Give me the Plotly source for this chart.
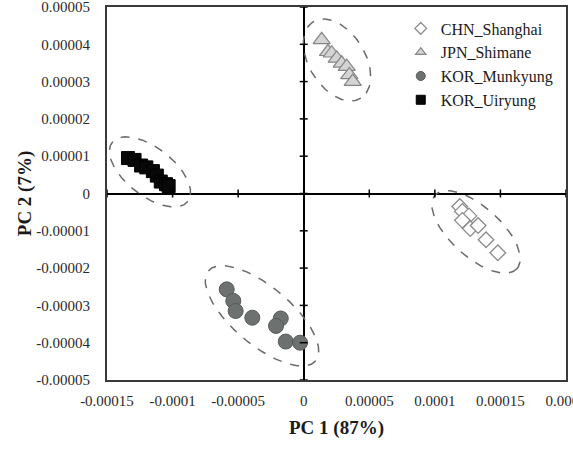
import numpy as np
import plotly.graph_objects as go

# ---- data ----
chn_x = [1.19e-4, 1.21e-4, 1.26e-4, 1.21e-4, 1.27e-4, 1.33e-4, 1.39e-4, 1.48e-4]
chn_y = [-3.5e-6, -4.8e-6, -6.0e-6, -7.2e-6, -9.4e-6, -8.6e-6, -1.24e-5, -1.59e-5]

jpn_x = [1.37e-5, 1.85e-5, 2.14e-5, 2.52e-5, 2.9e-5, 3.28e-5, 3.48e-5, 3.74e-5]
jpn_y = [4.12e-5, 3.8e-5, 3.76e-5, 3.62e-5, 3.49e-5, 3.4e-5, 3.18e-5, 3.0e-5]

mun_x = [-5.87e-5, -5.37e-5, -5.19e-5, -3.92e-5, -1.75e-5, -2.11e-5, -1.37e-5, -2.8e-6]
mun_y = [-2.57e-5, -2.88e-5, -3.15e-5, -3.33e-5, -3.35e-5, -3.55e-5, -3.97e-5, -4.0e-5]

uir_x = [-1.34e-4, -1.29e-4, -1.24e-4, -1.2e-4, -1.15e-4, -1.12e-4, -1.09e-4, -1.05e-4, -1.03e-4]
uir_y = [9.5e-6, 9.0e-6, 7.5e-6, 7.0e-6, 6.0e-6, 4.8e-6, 3.2e-6, 2.5e-6, 2.0e-6]

x_ticks = [-0.00015, -0.0001, -0.00005, 0, 0.00005, 0.0001, 0.00015, 0.0002]
x_tick_labels = ["-0.00015", "-0.0001", "-0.00005", "0", "0.00005", "0.0001", "0.00015", "0.0002"]
y_ticks = [0.00005, 0.00004, 0.00003, 0.00002, 0.00001, 0, -0.00001, -0.00002, -0.00003, -0.00004, -0.00005]
y_tick_labels = ["0.00005", "0.00004", "0.00003", "0.00002", "0.00001", "0",
                 "-0.00001", "-0.00002", "-0.00003", "-0.00004", "-0.00005"]

# ---- layout geometry ----
W, H = 573, 452
ML, MR, MT, MB = 107, 7, 7, 72
xr = [-0.00015, 0.0002]
yr = [-0.00005, 0.00005]
sx = (W - ML - MR) / (xr[1] - xr[0])
sy = (H - MT - MB) / (yr[1] - yr[0])

# ellipse decorations: center (data), semi-axes (px), angle (deg, downward slope)
ellipses = [
    (2.54e-5, 3.58e-5, 45, 28, 58),
    (-1.172e-4, 5.8e-6, 48, 24, 38),
    (1.314e-4, -1.03e-5, 55, 25, 42),
    (-3.18e-5, -3.28e-5, 70, 29, 40),
]

serif = "Liberation Serif, Times New Roman, serif"
fig = go.Figure()

t = np.linspace(0, 2 * np.pi, 200)
for cx, cy, a, b, ang in ellipses:
    th = np.deg2rad(ang)
    px = a * np.cos(t) * np.cos(th) - b * np.sin(t) * np.sin(th)
    py = a * np.cos(t) * np.sin(th) + b * np.sin(t) * np.cos(th)
    fig.add_trace(go.Scatter(x=cx + px / sx, y=cy - py / sy, mode="lines",
                             line=dict(color="#6a6a6a", width=1.5, dash="dash"),
                             showlegend=False, hoverinfo="skip"))

series = [
    ("CHN_Shanghai", chn_x, chn_y, "diamond", 12, 9, "white", "#8a8a8a", 1.3),
    ("JPN_Shimane", jpn_x, jpn_y, "triangle-up", 15, 9, "#d4d4d4", "#858585", 1.2),
    ("KOR_Munkyung", mun_x, mun_y, "circle", 15, 9, "#6d7270", "#555a58", 1),
    ("KOR_Uiryung", uir_x, uir_y, "square", 13, 9, "#080808", "#000000", 1),
]
for i, (name, xs, ys, sym, sz, lsz, fc, lc, lw) in enumerate(series):
    fig.add_trace(go.Scatter(x=xs, y=ys, mode="markers", name=name, showlegend=False,
                             marker=dict(symbol=sym, size=sz, color=fc,
                                         line=dict(color=lc, width=lw))))
for i, (name, xs, ys, sym, sz, lsz, fc, lc, lw) in enumerate(series):
    fig.add_trace(go.Scatter(x=[None], y=[None], mode="markers", name=name,
                             legendgroup="g%d" % i,
                             marker=dict(symbol=sym, size=lsz, color=fc,
                                         line=dict(color=lc, width=lw))))

shapes = []
for v in x_ticks:
    shapes.append(dict(type="line", xref="x", yref="y", x0=v, x1=v,
                       ysizemode="pixel", yanchor=0, y0=-4, y1=4,
                       line=dict(color="black", width=1.5)))
for v in y_ticks:
    shapes.append(dict(type="line", xref="x", yref="y", y0=v, y1=v,
                       xsizemode="pixel", xanchor=0, x0=-4, x1=4,
                       line=dict(color="black", width=1.5)))

fig.update_layout(
    width=W, height=H,
    margin=dict(l=ML, r=MR, t=MT, b=MB, autoexpand=False),
    paper_bgcolor="white", plot_bgcolor="white",
    font=dict(family=serif, color="#2a2a2a", size=15),
    showlegend=True,
    legend=dict(x=0.64, y=0.988, xanchor="left", yanchor="top",
                font=dict(family=serif, size=16, color="#1a1a1a"),
                itemsizing="trace", traceorder="grouped", tracegroupgap=0,
                bgcolor="rgba(0,0,0,0)"),
    shapes=shapes,
    xaxis=dict(range=xr, tickvals=x_ticks, ticktext=x_tick_labels,
               showgrid=False, zeroline=True, zerolinecolor="black", zerolinewidth=2,
               showline=True, mirror=True, linecolor="#3a3a3a", linewidth=1.8,
               ticks="", ticklabelstandoff=6, ticklabeloverflow="allow", automargin=False,
               tickfont=dict(size=15, family=serif, color="#2a2a2a"),
               title=dict(text="<b>PC 1 (87%)</b>", font=dict(size=19, family=serif, color="#1a1a1a"),
                          standoff=13)),
    yaxis=dict(range=yr, tickvals=y_ticks, ticktext=y_tick_labels,
               showgrid=False, zeroline=True, zerolinecolor="black", zerolinewidth=2,
               showline=True, mirror=True, linecolor="#3a3a3a", linewidth=1.8,
               ticks="", ticklabelstandoff=12, ticklabeloverflow="allow", automargin=False,
               tickfont=dict(size=15, family=serif, color="#2a2a2a"),
               title=dict(text="<b>PC 2 (7%)</b>", font=dict(size=19, family=serif, color="#1a1a1a"),
                          standoff=0)),
)

fig.write_html("out.html")
